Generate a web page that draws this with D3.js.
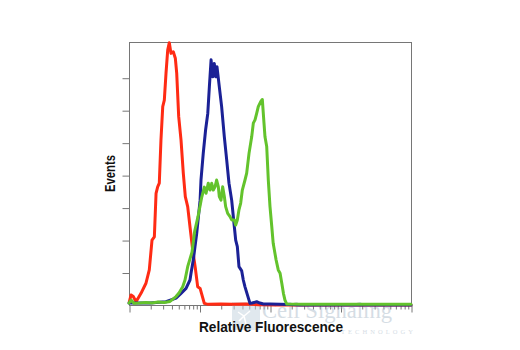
<!DOCTYPE html>
<html>
<head>
<meta charset="utf-8">
<script src="https://cdn.jsdelivr.net/npm/d3@7"></script>
<style>
  html, body { margin: 0; padding: 0; background: #ffffff; }
  svg { display: block; }
</style>
</head>
<body>
<svg id="chart" width="520" height="350"></svg>
<script>
// Flow cytometry histograms: [relative fluorescence, events]
const isotypeControl = [
  [1.01, 1.0], [1.07, 3.1], [1.15, 2.6], [1.26, 1.0], [1.48, 3.6], [1.74, 6.7],
  [1.94, 10.8], [2.12, 20.0], [2.29, 21.0], [2.42, 34.4], [2.55, 36.4], [2.69, 37.5],
  [2.84, 50.8], [3.01, 61.1], [3.17, 63.1], [3.35, 71.4], [3.54, 78.5], [3.73, 80.8],
  [3.94, 77.5], [4.25, 78.0], [4.54, 76.0], [4.75, 71.4], [5.07, 58.0], [5.47, 50.8],
  [5.89, 40.6], [6.29, 33.4], [6.80, 30.3], [7.33, 24.1], [8.01, 16.9], [8.72, 11.4],
  [9.43, 5.6], [10.2, 5.1], [11.7, 0.5], [13.3, 0.2], [20, 0.3], [30, 0.2],
  [45, 0.3], [70, 0.1], [120, 0.0], [10000, 0.0]
];

const sampleBlue = [
  [1.0, 0.6], [1.99, 0.6], [3.35, 1.0], [4.64, 2.1], [5.47, 3.6], [6.44, 5.1],
  [7.33, 7.7], [7.58, 9.8], [8.17, 13.9], [9.13, 22.1], [10.2, 32.3], [10.5, 38.5],
  [11.3, 46.7], [12.2, 53.9], [13.1, 59.0], [13.8, 67.2], [14.6, 75.5], [15.4, 70.3],
  [16.2, 74.4], [17.0, 70.3], [17.7, 73.4], [19.1, 67.2], [20.6, 61.1], [22.5, 51.8],
  [24.3, 44.7], [26.2, 37.5], [28.6, 32.3], [31.2, 24.1], [32.6, 20.0], [34.4, 18.0],
  [36.3, 11.8], [39.7, 10.5], [41.8, 7.7], [44.2, 5.6], [48.3, 2.8], [52.0, 0.5],
  [55.6, 0.6], [64.7, 1.0], [72.1, 0.6], [80.4, 0.3], [100, 0.3], [192, 0.15],
  [260, 0.0], [10000, 0.0]
];

const sampleGreen = [
  [1.0, 0.6], [1.07, 1.5], [1.18, 0.5], [1.43, 0.6], [1.74, 0.8], [2.12, 0.6],
  [2.58, 0.9], [3.14, 0.8], [3.82, 1.1], [4.64, 2.6], [5.12, 3.7], [5.78, 5.6],
  [6.23, 7.7], [6.80, 11.8], [7.83, 16.3], [8.55, 22.8], [9.52, 27.2], [10.7, 33.0],
  [11.7, 36.3], [12.4, 34.4], [13.3, 37.5], [14.1, 35.4], [14.9, 37.5], [15.7, 35.4],
  [16.6, 36.4], [17.5, 38.5], [18.5, 36.4], [19.1, 33.4], [20.2, 32.3], [21.3, 36.4],
  [22.5, 33.4], [23.5, 30.3], [25.1, 28.2], [27.1, 27.2], [28.6, 26.2], [31.2, 26.2],
  [32.6, 24.6], [34.4, 26.2], [36.3, 29.3], [38.4, 31.4], [40.5, 35.4], [44.2, 38.5],
  [46.7, 40.6], [50.4, 46.7], [55.0, 51.8], [58.0, 56.0], [61.3, 57.0], [64.7, 59.0],
  [68.2, 61.1], [73.8, 62.6], [77.8, 63.3], [82.2, 56.0], [84.9, 51.8], [89.8, 48.8],
  [94.6, 38.5], [100, 30.3], [106, 24.1], [111, 19.0], [122, 13.9], [131, 10.8],
  [139, 9.8], [147, 6.7], [155, 3.6], [163, 1.5], [173, 0.3], [300, 0.2], [10000, 0.2]
];

const seriesColors = ["#ff2b14", "#1b2196", "#63c32c"];
const yTickValues = [10, 20, 30, 40, 50, 60, 70];
const xMajorTicks = [1, 10, 100, 1000, 10000];

const svg = d3.select("#chart");
const plotLeft = 129, plotRight = 411, plotTop = 42, plotBottom = 305;

const x = d3.scaleLog().domain([1, 10000]).range([plotLeft, plotRight]);
const y = d3.scaleLinear().domain([0, 81]).range([plotBottom, plotTop]);

// minor log ticks (2..9 within each decade)
const xMinorTicks = [];
for (let p = 0; p < 4; p++) {
  for (let m = 2; m <= 9; m++) xMinorTicks.push(m * Math.pow(10, p));
}

const axisColor = "#767676";

// left axis ticks
const gy = svg.append("g")
  .attr("transform", `translate(${plotLeft + 0.5},0.5)`)
  .call(d3.axisLeft(y).tickValues(yTickValues).tickSize(7).tickSizeOuter(0).tickFormat(""));
gy.select(".domain").remove();
gy.selectAll("line").attr("stroke", axisColor);

// bottom axis ticks: minor then major
const gxMinor = svg.append("g")
  .attr("transform", `translate(0.5,${plotBottom + 0.5})`)
  .call(d3.axisBottom(x).tickValues(xMinorTicks).tickSize(4).tickSizeOuter(0).tickFormat(""));
gxMinor.select(".domain").remove();
gxMinor.selectAll("line").attr("stroke", axisColor);

const gxMajor = svg.append("g")
  .attr("transform", `translate(0.5,${plotBottom + 0.5})`)
  .call(d3.axisBottom(x).tickValues(xMajorTicks).tickSize(7).tickSizeOuter(0).tickFormat(""));
gxMajor.select(".domain").remove();
gxMajor.selectAll("line").attr("stroke", axisColor);

// plot frame
svg.append("rect")
  .attr("x", plotLeft + 0.5).attr("y", plotTop + 0.5)
  .attr("width", plotRight - plotLeft).attr("height", plotBottom - plotTop)
  .attr("fill", "none").attr("stroke", axisColor).attr("stroke-width", 1);

// company watermark, faint behind the titles
const wm = svg.append("g").attr("opacity", 0.5);
wm.append("rect")
  .attr("x", 232).attr("y", 302).attr("width", 28).attr("height", 28)
  .attr("fill", "#c3d2de");
wm.append("path")
  .attr("d", "M238,312 l6,4 l6,-5 M244,316 l2,8 M244,316 l-5,5")
  .attr("stroke", "#ffffff").attr("stroke-width", 1.5).attr("fill", "none");
wm.append("text")
  .attr("x", 262).attr("y", 318)
  .attr("font-family", "'Liberation Serif', 'DejaVu Serif', serif")
  .attr("font-size", 24)
  .attr("textLength", 130)
  .attr("lengthAdjust", "spacingAndGlyphs")
  .attr("fill", "#adbccb")
  .text("Cell Signaling");
wm.append("text")
  .attr("x", 341).attr("y", 334)
  .attr("font-family", "'Liberation Serif', 'DejaVu Serif', serif")
  .attr("font-size", 6.5)
  .attr("textLength", 72)
  .attr("lengthAdjust", "spacing")
  .attr("fill", "#adbccb")
  .text("TECHNOLOGY");

// histograms
const line = d3.line()
  .x(d => x(d[0]))
  .y(d => y(d[1]));

const series = [isotypeControl, sampleBlue, sampleGreen];
svg.append("g").selectAll("path")
  .data(series)
  .join("path")
  .attr("d", line)
  .attr("fill", "none")
  .attr("stroke", (d, i) => seriesColors[i])
  .attr("stroke-width", 3)
  .attr("stroke-linejoin", "round")
  .attr("stroke-linecap", "round");

// axis titles
const titleFont = "'Liberation Sans Narrow', 'Arial Narrow', 'Liberation Sans', Arial, sans-serif";
svg.append("text")
  .attr("x", 199).attr("y", 332)
  .attr("font-family", titleFont)
  .attr("font-weight", "bold")
  .attr("font-size", 15.5)
  .attr("textLength", 144)
  .attr("lengthAdjust", "spacingAndGlyphs")
  .attr("fill", "#111")
  .text("Relative Fluorescence");

svg.append("text")
  .attr("transform", "translate(115,192) rotate(-90)")
  .attr("font-family", titleFont)
  .attr("font-weight", "bold")
  .attr("font-size", 15.5)
  .attr("textLength", 37)
  .attr("lengthAdjust", "spacingAndGlyphs")
  .attr("fill", "#111")
  .text("Events");
</script>
</body>
</html>
